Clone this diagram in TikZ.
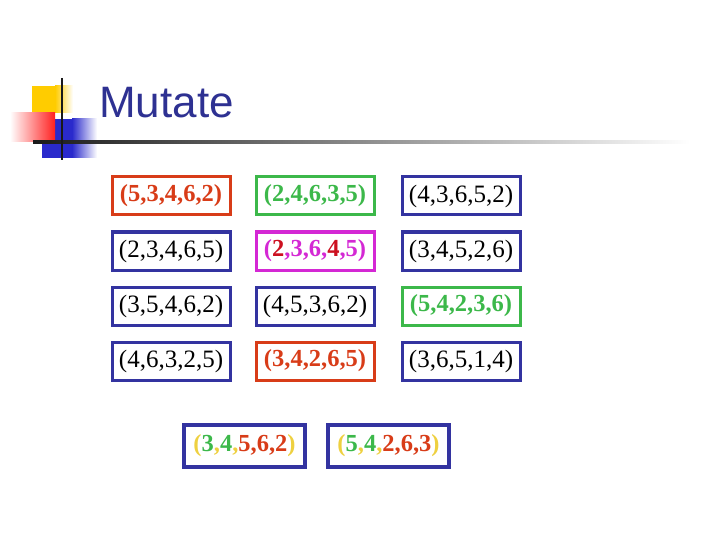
\documentclass[tikz,border=0pt]{standalone}
\usepackage{fontspec}
\setmainfont{Liberation Serif}
\newfontfamily\headfont{Liberation Sans}
\definecolor{cblue}{HTML}{3333A0}
\definecolor{cred}{HTML}{D83C18}
\definecolor{cgreen}{HTML}{3CB84A}
\definecolor{cmag}{HTML}{D428D4}
\definecolor{cdred}{HTML}{CC1020}
\definecolor{cyel}{HTML}{EED040}
\definecolor{ctitle}{HTML}{2E3192}
\definecolor{lyellow}{HTML}{FFCC00}
\definecolor{lred}{HTML}{FF2020}
\definecolor{lblue}{HTML}{2A2ACC}
\tikzset{
  box/.style={draw=cblue, line width=3pt, minimum width=118pt, minimum height=38pt, inner sep=0pt,
    font=\fontsize{25}{25}\selectfont},
  bigbox/.style={box, line width=4pt, minimum width=121pt, minimum height=42pt},
  hot/.style={font=\fontsize{24.5}{25}\selectfont\bfseries}
}
\newcommand{\cy}[1]{\textcolor{cyel}{#1}}
\newcommand{\cg}[1]{\textcolor{cgreen}{#1}}
\newcommand{\crd}[1]{\textcolor{cred}{#1}}
\begin{document}
\begin{tikzpicture}[x=1pt,y=-1pt]
\useasboundingbox (0,0) rectangle (720,540);
% logo
\fill[lyellow] (32,86) rectangle (55,113);
\shade[left color=lyellow, right color=white] (55,86) rectangle (73,113);
\fill[lblue] (42,119) rectangle (72,158);
\shade[left color=lblue, right color=white] (72,119) rectangle (97,158);
\shade[left color=white, right color=lred] (10,113) rectangle (55,142);
\shade[left color=black!90, right color=white] (33,140.5) rectangle (690,143.5);
\draw[line width=2.5pt, black!90] (62,78) -- (62,160);
\node[anchor=base west, inner sep=0pt, text=ctitle, font=\headfont\fontsize{44}{44}\selectfont] (title) at (99,118) {Mutate};
% grid
\node[box, draw=cred, hot, text=cred] (a1) at (171,196) {(5,3,4,6,2)};
\node[box, draw=cgreen, hot, text=cgreen] (a2) at (315,196) {(2,4,6,3,5)};
\node[box] (a3) at (461,196) {(4,3,6,5,2)};
\node[box] (b1) at (171,251) {(2,3,4,6,5)};
\node[box, draw=cmag, hot, text=cmag] (b2) at (315,251) {(\textcolor{cdred}{2},3,6,\textcolor{cdred}{4},5)};
\node[box] (b3) at (461,251) {(3,4,5,2,6)};
\node[box] (c1) at (171,306) {(3,5,4,6,2)};
\node[box] (c2) at (315,306) {(4,5,3,6,2)};
\node[box, draw=cgreen, hot, text=cgreen] (c3) at (461,306) {(5,4,2,3,6)};
\node[box] (d1) at (171,361) {(4,6,3,2,5)};
\node[box, draw=cred, hot, text=cred] (d2) at (315,361) {(3,4,2,6,5)};
\node[box] (d3) at (461,361) {(3,6,5,1,4)};
% offspring
\node[bigbox, hot] (e1) at (244.5,446) {\cy{(}\cg{3}\cy{,}\cg{4}\cy{,}\crd{5,6,2}\cy{)}};
\node[bigbox, hot] (e2) at (388.5,446) {\cy{(}\cg{5}\cy{,}\cg{4}\cy{,}\crd{2,6,3}\cy{)}};
\end{tikzpicture}
\end{document}
